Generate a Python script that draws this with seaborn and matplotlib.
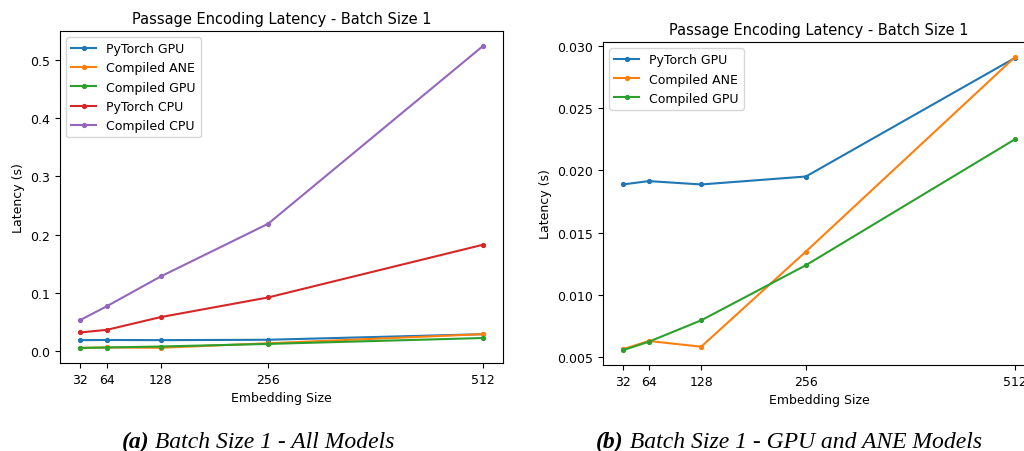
import matplotlib
matplotlib.use("Agg")
import matplotlib.pyplot as plt
import seaborn as sns

# Embedding sizes on the x axis
sizes = [32, 64, 128, 256, 512]

# Passage encoding latency (seconds), batch size 1
pytorch_gpu = [0.01887, 0.01914, 0.01887, 0.01951, 0.02906]
compiled_ane = [0.00562, 0.00629, 0.00583, 0.01348, 0.02914]
compiled_gpu = [0.00554, 0.00623, 0.00795, 0.01238, 0.02252]
pytorch_cpu = [0.0320, 0.0366, 0.0584, 0.0921, 0.1825]
compiled_cpu = [0.0532, 0.0772, 0.1281, 0.2185, 0.5234]

series_all = [
    ("PyTorch GPU", pytorch_gpu),
    ("Compiled ANE", compiled_ane),
    ("Compiled GPU", compiled_gpu),
    ("PyTorch CPU", pytorch_cpu),
    ("Compiled CPU", compiled_cpu),
]
series_gpu_ane = series_all[:3]

title = "Passage Encoding Latency - Batch Size 1"
captions = [("(a)", " Batch Size 1 - All Models"),
            ("(b)", " Batch Size 1 - GPU and ANE Models")]

palette = sns.color_palette("tab10", 5)

W, H = 1024, 452
fig = plt.figure(figsize=(W / 100, H / 100), dpi=100)


def px_axes(left, top, right, bottom):
    return fig.add_axes([left / W, 1 - bottom / H, (right - left) / W, (bottom - top) / H])


def draw(ax, series):
    for (name, vals), col in zip(series, palette):
        sns.lineplot(x=sizes, y=vals, ax=ax, color=col, marker=".", markersize=6,
                     linewidth=1.5, label=name)
    for line in ax.get_lines():
        line.set_markeredgecolor(line.get_color())
    ax.set_xticks(sizes)
    ax.set_xticklabels([str(s) for s in sizes])
    ax.tick_params(labelsize=9)
    ax.set_title(title, fontsize=10.5)
    ax.set_xlabel("Embedding Size", fontsize=9)
    ax.set_ylabel("Latency (s)", fontsize=9)
    leg = ax.legend(loc="upper left", fontsize=9)
    for h in leg.legend_handles:
        h.set_markeredgecolor(h.get_color())


ax1 = px_axes(60, 32, 503, 364)
draw(ax1, series_all)

ax2 = px_axes(603, 43, 1035, 366)
draw(ax2, series_gpu_ane)
ax2.yaxis.set_major_formatter(matplotlib.ticker.FormatStrFormatter("%.3f"))

# Subfigure captions: bold-italic tag followed by italic text, centred as a unit
fig.canvas.draw()
renderer = fig.canvas.get_renderer()
cap_font = dict(fontsize=17, family="Liberation Serif", style="italic")
for (tag, rest), cx in zip(captions, [258, 789]):
    t1 = fig.text(0, 1 - 448 / H, tag, ha="left", va="baseline", weight="bold", **cap_font)
    t2 = fig.text(0, 1 - 448 / H, rest, ha="left", va="baseline", **cap_font)
    w1 = t1.get_window_extent(renderer).width
    w2 = t2.get_window_extent(renderer).width
    x0 = cx - (w1 + w2) / 2
    t1.set_x(x0 / W)
    t2.set_x((x0 + w1) / W)

fig.savefig("out.png", dpi=100)
